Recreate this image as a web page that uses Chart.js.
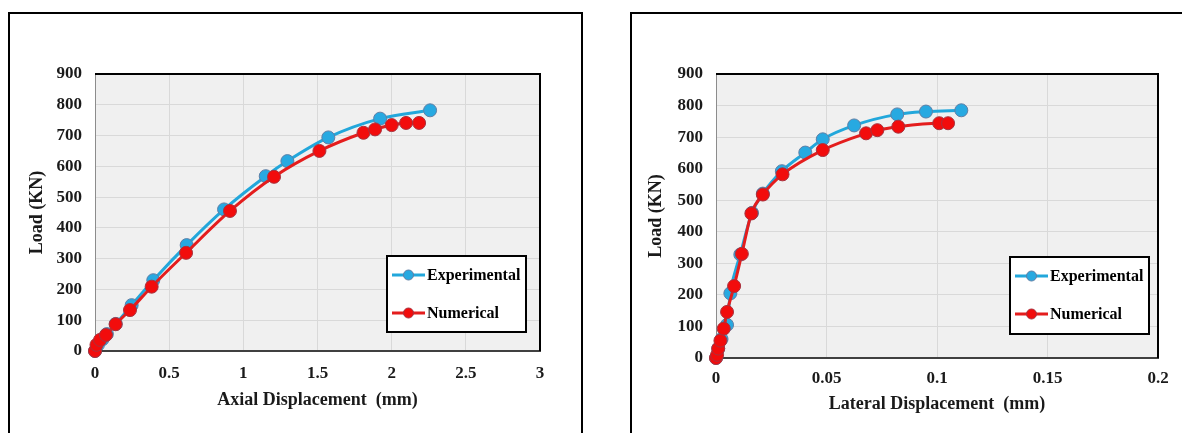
<!DOCTYPE html>
<html>
<head>
<meta charset="utf-8">
<script src="https://cdn.jsdelivr.net/npm/chart.js@4/dist/chart.umd.min.js"></script>
<style>
  html, body { margin: 0; padding: 0; background: #fff; width: 1182px; height: 433px; overflow: hidden; }
  .box { position: absolute; border: 2px solid #000; border-bottom: none; box-sizing: border-box; }
  canvas { position: absolute; }
</style>
</head>
<body>
<div class="box" style="left:8px; top:12px; width:575px; height:440px;"></div>
<div class="box" style="left:630px; top:12px; width:570px; height:440px;"></div>
<canvas id="c1" width="570" height="418" style="left:10px; top:15px;"></canvas>
<canvas id="c2" width="550" height="418" style="left:632px; top:15px;"></canvas>
<script>
// ---- Data ----
const seriesNames = ['Experimental', 'Numerical'];

// Left chart: Axial displacement (mm) vs Load (KN)
const axialExpX = [0, 0.02, 0.05, 0.08, 0.14, 0.247, 0.393, 0.618, 0.87, 1.151, 1.297, 1.573, 1.922, 2.259];
const axialExpY = [0, 20, 38, 55, 88, 149, 230, 344, 460, 568, 617, 694, 755, 782];
const axialNumX = [0, 0.01, 0.034, 0.074, 0.139, 0.236, 0.382, 0.614, 0.91, 1.207, 1.513, 1.81, 1.888, 2.0, 2.097, 2.185];
const axialNumY = [0, 20, 36, 52, 87, 133, 209, 319, 455, 566, 650, 709, 720, 734, 741, 741];

// Right chart: Lateral displacement (mm) vs Load (KN)
const latExpX = [0, 0.001, 0.0025, 0.005, 0.0065, 0.011, 0.0163, 0.0212, 0.0298, 0.0404, 0.0483, 0.0625, 0.082, 0.095, 0.111];
const latExpY = [0, 30, 60, 105, 205, 328, 460, 521, 592, 651, 693, 737, 772, 781, 785];
const latNumX = [0, 0.0005, 0.001, 0.002, 0.0035, 0.005, 0.0082, 0.0117, 0.016, 0.0212, 0.0301, 0.0483, 0.0679, 0.073, 0.0825, 0.101, 0.105];
const latNumY = [0, 10, 30, 55, 93, 146, 228, 330, 458, 518, 582, 659, 712, 722, 733, 744, 744];

// Tick labels
const loadTicks = [0, 100, 200, 300, 400, 500, 600, 700, 800, 900];
const axialTicks = [0, 0.5, 1, 1.5, 2, 2.5, 3];
const lateralTicks = [0, 0.05, 0.1, 0.15, 0.2];

const axisTitles = { axial: 'Axial Displacement  (mm)', lateral: 'Lateral Displacement  (mm)', load: 'Load (KN)' };

// ---- Styling ----
const FONT = '"Liberation Serif", "Times New Roman", serif';
const BLUE = { line: '#22a7db', fill: '#27a9e1', border: '#5f7fa6' };
const RED = { line: '#e41d1d', fill: '#f20c0c', border: '#a8323e' };

function zip(xs, ys) { return xs.map((x, i) => ({ x: x, y: ys[i] })); }

const bgPlugin = {
  id: 'bgPlugin',
  beforeDraw(chart) {
    const { ctx, chartArea: a } = chart;
    ctx.save();
    ctx.fillStyle = '#f0f0f0';
    ctx.fillRect(a.left, a.top, a.right - a.left, a.bottom - a.top);
    ctx.restore();
  },
  beforeDatasetsDraw(chart) {
    const { ctx, chartArea: a } = chart;
    ctx.save();
    ctx.strokeStyle = '#000';
    ctx.lineWidth = 2;
    ctx.beginPath();
    ctx.moveTo(a.left, a.top);
    ctx.lineTo(a.right, a.top);
    ctx.lineTo(a.right, a.bottom);
    ctx.stroke();
    ctx.restore();
  }
};

const legendPlugin = {
  id: 'boxLegend',
  afterDraw(chart, args, opts) {
    const { ctx, chartArea: a } = chart;
    const w = opts.width, h = opts.height;
    const x0 = a.right - opts.right - w;
    const y0 = a.bottom - opts.bottom - h;
    ctx.save();
    ctx.fillStyle = '#fff';
    ctx.fillRect(x0, y0, w, h);
    ctx.strokeStyle = '#000';
    ctx.lineWidth = 2;
    ctx.strokeRect(x0, y0, w, h);
    const ds = chart.data.datasets;
    const rows = [y0 + 19, y0 + 57];
    ds.forEach((d, i) => {
      const cy = rows[i];
      ctx.strokeStyle = d.borderColor;
      ctx.lineWidth = 3;
      ctx.beginPath();
      ctx.moveTo(x0 + 5, cy);
      ctx.lineTo(x0 + 38, cy);
      ctx.stroke();
      ctx.beginPath();
      ctx.arc(x0 + 21.5, cy, 5, 0, Math.PI * 2);
      ctx.fillStyle = d.pointBackgroundColor;
      ctx.fill();
      ctx.lineWidth = 1;
      ctx.strokeStyle = d.pointBorderColor;
      ctx.stroke();
      ctx.fillStyle = '#000';
      ctx.font = 'bold 16px ' + FONT;
      ctx.textBaseline = 'middle';
      ctx.textAlign = 'left';
      ctx.fillText(d.label, x0 + 40, cy + 1);
    });
    ctx.restore();
  }
};

function makeDataset(label, pts, col) {
  return {
    label: label,
    data: pts,
    showLine: true,
    clip: false,
    borderColor: col.line,
    backgroundColor: col.line,
    borderWidth: 3,
    pointRadius: 6.5,
    pointBackgroundColor: col.fill,
    pointBorderColor: col.border,
    pointBorderWidth: 1,
    cubicInterpolationMode: 'monotone'
  };
}

function makeChart(id, cfg) {
  const tickFont = { family: FONT, size: 17, weight: 'bold' };
  const titleFont = { family: FONT, size: 18, weight: 'bold' };
  return new Chart(document.getElementById(id), {
    type: 'scatter',
    data: {
      datasets: [
        Object.assign(makeDataset(seriesNames[0], cfg.exp, BLUE), { order: 1 }),
        Object.assign(makeDataset(seriesNames[1], cfg.num, RED), { order: 0 })
      ]
    },
    options: {
      responsive: false,
      animation: false,
      devicePixelRatio: 1,
      layout: { padding: cfg.padding },
      plugins: {
        legend: { display: false },
        tooltip: { enabled: false },
        boxLegend: cfg.legend
      },
      scales: {
        x: {
          type: 'linear',
          min: cfg.xTicks[0],
          max: cfg.xTicks[cfg.xTicks.length - 1],
          afterBuildTicks(s) { s.ticks = cfg.xTicks.map(v => ({ value: v })); },
          afterFit(s) { s.height = cfg.xHeight; },
          grid: { color: '#d9d9d9', drawTicks: false, lineWidth: 1 },
          border: { color: '#404040', width: 2 },
          ticks: { font: tickFont, color: '#1a1a1a', padding: cfg.xTickPad, maxRotation: 0, callback: v => String(v) },
          title: { display: true, text: cfg.xTitle, font: titleFont, color: '#1a1a1a', padding: { top: 0, bottom: cfg.xTitlePad } }
        },
        y: {
          type: 'linear',
          min: 0,
          max: 900,
          afterBuildTicks(s) { s.ticks = loadTicks.map(v => ({ value: v })); },
          afterFit(s) { s.width = cfg.yWidth; },
          grid: { color: '#d9d9d9', drawTicks: false, lineWidth: 1 },
          border: { color: '#8c8c8c', width: 1 },
          ticks: { font: tickFont, color: '#1a1a1a', padding: 13, callback: v => String(v) },
          title: { display: true, text: axisTitles.load, font: titleFont, color: '#1a1a1a', padding: { top: 4, bottom: 0 } }
        }
      }
    },
    plugins: [bgPlugin, legendPlugin]
  });
}

makeChart('c1', {
  exp: zip(axialExpX, axialExpY),
  num: zip(axialNumX, axialNumY),
  xTicks: axialTicks,
  xTitle: axisTitles.axial,
  padding: { left: 13, right: 40, top: 59, bottom: 12 },
  yWidth: 72,
  xHeight: 70,
  xTickPad: 12,
  xTitlePad: 10,
  legend: { width: 139, height: 76, right: 14, bottom: 19 }
});

makeChart('c2', {
  exp: zip(latExpX, latExpY),
  num: zip(latNumX, latNumY),
  xTicks: lateralTicks,
  xTitle: axisTitles.lateral,
  padding: { left: 10, right: 24, top: 59, bottom: 10 },
  yWidth: 74,
  xHeight: 65,
  xTickPad: 10,
  xTitlePad: 8,
  legend: { width: 139, height: 77, right: 9, bottom: 24 }
});
</script>
</body>
</html>
